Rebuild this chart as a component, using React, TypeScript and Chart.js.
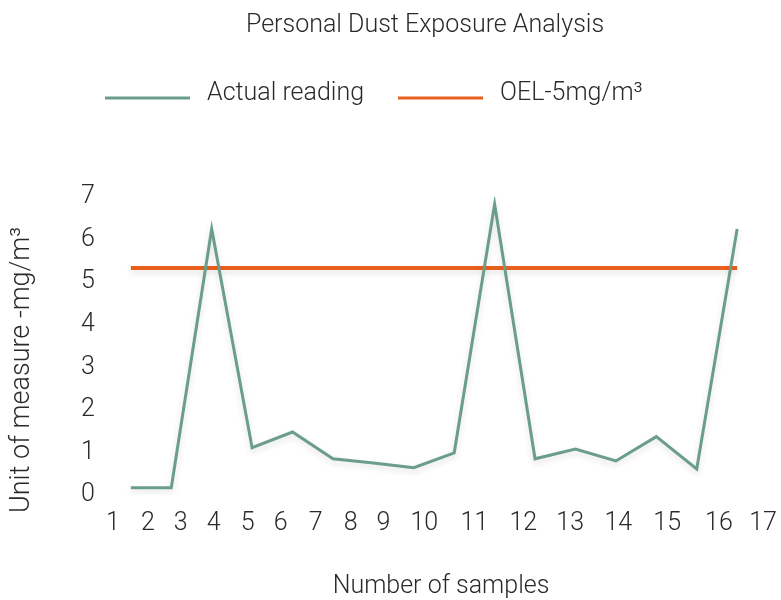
import React, { useEffect, useRef } from "react";
import { Chart, registerables } from "chart.js";

Chart.register(...registerables);

const chartTitle = "Personal Dust Exposure Analysis";
const xAxisTitle = "Number of samples";
const yAxisTitle = "Unit of measure -mg/m\u00b3";

const sampleNumbers = [1, 2, 3, 4, 5, 6, 7, 8, 9, 10, 11, 12, 13, 14, 15, 16];
const actualReading = [0.17, 0.17, 6.25, 1.11, 1.48, 0.85, 0.75, 0.64, 0.99, 6.83, 0.85, 1.08, 0.8, 1.37, 0.61, 6.25];
const oelLimit = [5.33, 5.33, 5.33, 5.33, 5.33, 5.33, 5.33, 5.33, 5.33, 5.33, 5.33, 5.33, 5.33, 5.33, 5.33, 5.33];

const xTickLabels = ["1", "2", "3", "4", "5", "6", "7", "8", "9", "10", "11", "12", "13", "14", "15", "16", "17"];
const xTickValues = [0.555, 1.42, 2.235, 3.05, 3.89, 4.71, 5.57, 6.44, 7.25, 8.26, 9.5, 10.71, 11.87, 13.06, 14.27, 15.55, 16.64];
const yTickValues = [0, 1, 2, 3, 4, 5, 6, 7];

const FONT_FAMILY = "Roboto, 'Liberation Sans', sans-serif";
const TEXT_COLOR = "#2a2a2a";
const GREEN = "#6b9e8a";
const ORANGE = "#e8601c";

const decorPlugin = {
  id: "decor",
  beforeDatasetDraw(chart: any) {
    const ctx = chart.ctx;
    ctx.save();
    ctx.shadowColor = "rgba(0,0,0,0.13)";
    ctx.shadowBlur = 6;
    ctx.shadowOffsetY = 3;
  },
  afterDatasetDraw(chart: any) {
    chart.ctx.restore();
  },
  afterDraw(chart: any) {
    const ctx = chart.ctx;
    ctx.save();
    ctx.fillStyle = TEXT_COLOR;
    ctx.font = `300 25px ${FONT_FAMILY}`;
    ctx.textBaseline = "alphabetic";

    // title
    ctx.textAlign = "center";
    ctx.fillText(chartTitle, 425, 32);

    // legend
    ctx.textAlign = "left";
    let x = 105;
    const lineLen = 85;
    chart.data.datasets.forEach((ds: any) => {
      ctx.strokeStyle = ds.borderColor;
      ctx.lineWidth = 3;
      ctx.beginPath();
      ctx.moveTo(x, 98);
      ctx.lineTo(x + lineLen, 98);
      ctx.stroke();
      const tx = x + lineLen + 17;
      ctx.fillText(ds.label, tx, 100);
      x = tx + ctx.measureText(ds.label).width + 34;
    });

    // x axis title
    ctx.textAlign = "center";
    ctx.fillText(xAxisTitle, 441, 593);

    // y axis title
    ctx.font = `300 27px ${FONT_FAMILY}`;
    ctx.translate(29, 370);
    ctx.rotate(-Math.PI / 2);
    ctx.textAlign = "center";
    ctx.fillText(yAxisTitle, 0, 0);
    ctx.restore();
  },
};

export default function App() {
  const canvasRef = useRef<HTMLCanvasElement | null>(null);

  useEffect(() => {
    if (!canvasRef.current) return;
    const chart = new Chart(canvasRef.current, {
      type: "line",
      data: {
        datasets: [
          {
            label: "Actual reading",
            data: sampleNumbers.map((x, i) => ({ x, y: actualReading[i] })),
            borderColor: GREEN,
            backgroundColor: GREEN,
            borderWidth: 3,
            pointRadius: 0,
            tension: 0,
          },
          {
            label: "OEL-5mg/m\u00b3",
            data: sampleNumbers.map((x, i) => ({ x, y: oelLimit[i] })),
            borderColor: ORANGE,
            backgroundColor: ORANGE,
            borderWidth: 4,
            pointRadius: 0,
            tension: 0,
          },
        ],
      },
      options: {
        responsive: false,
        animation: false,
        layout: { padding: { left: 63, right: 18, top: 197, bottom: 61 } },
        plugins: {
          legend: { display: false },
          title: { display: false },
          tooltip: { enabled: false },
        },
        scales: {
          x: {
            type: "linear",
            min: xTickValues[0],
            max: xTickValues[xTickValues.length - 1],
            grid: { display: false, drawTicks: true, tickLength: 14 },
            border: { display: false },
            afterBuildTicks: (scale: any) => {
              scale.ticks = xTickValues.map((v) => ({ value: v }));
            },
            ticks: {
              autoSkip: false,
              maxRotation: 0,
              padding: 0,
              color: TEXT_COLOR,
              font: { family: FONT_FAMILY, size: 25, weight: 300 as any },
              callback: (_v: any, i: number) => xTickLabels[i],
            },
          },
          y: {
            min: 0,
            max: 7,
            grid: { display: false, drawTicks: false },
            border: { display: false },
            afterBuildTicks: (scale: any) => {
              scale.ticks = yTickValues.map((v) => ({ value: v }));
            },
            ticks: {
              padding: 18,
              color: TEXT_COLOR,
              font: { family: FONT_FAMILY, size: 25, weight: 300 as any },
              callback: (v: any) => String(v),
            },
          },
        },
      },
      plugins: [decorPlugin],
    });
    return () => chart.destroy();
  }, []);

  return (
    <div style={{ position: "absolute", left: 0, top: 0, width: 781, height: 600, background: "#fff" }}>
      <canvas ref={canvasRef} width={781} height={600} />
    </div>
  );
}
